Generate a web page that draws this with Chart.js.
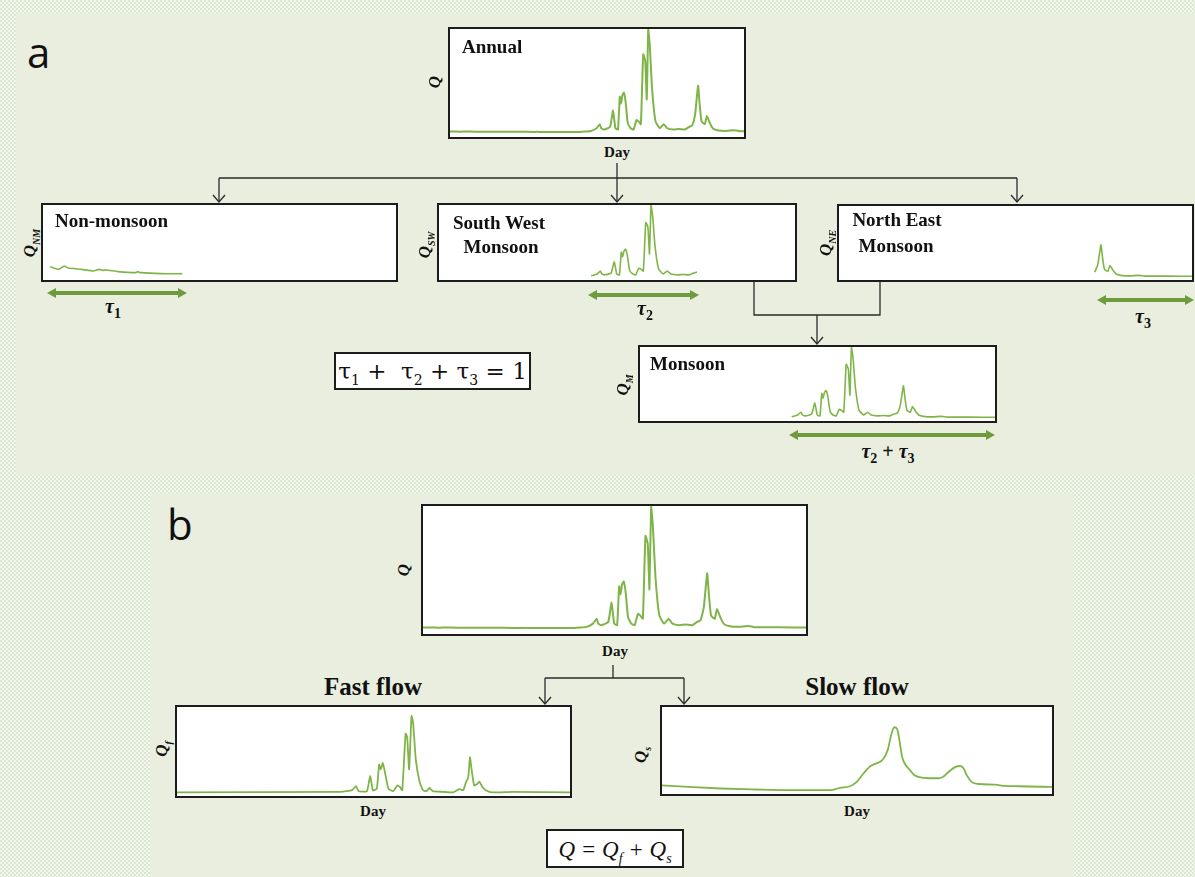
<!DOCTYPE html>
<html lang="en">
<head>
<meta charset="UTF-8">
<title>Streamflow decomposition</title>
<script src="https://cdn.jsdelivr.net/npm/chart.js"></script>
<style>
  body {
    margin: 0;
    width: 1195px;
    height: 877px;
    overflow: hidden;
    position: relative;
    background-color: #e7efdf;
    background-image: conic-gradient(#f5f8f0 25%, #dbe7cf 0 50%, #f5f8f0 0 75%, #dbe7cf 0);
    background-size: 4px 4px;
    font-family: "Liberation Serif", serif;
  }
  .panel { position: absolute; background: #eaeedf; }
  .box {
    position: absolute;
    box-sizing: border-box;
    border: 2px solid #1c1c1c;
    background: #fff;
  }
  .box canvas { position: absolute; left: 0; top: 0; }
  .t { position: absolute; line-height: 1; white-space: nowrap; color: #111; }
  .c { transform: translateX(-50%); }
  .bold { font-weight: bold; }
  .ql {
    position: absolute;
    font: italic bold 17px "Liberation Serif", serif;
    transform: translate(-50%, -50%) rotate(-90deg);
    white-space: nowrap;
    color: #111;
  }
  .ql sub { font-size: 10px; }
  .tau { font: italic bold 20px "Liberation Serif", serif; }
  .tau sub { font-style: normal; font-size: 14px; }
  .letter { font-family: "Open Sans", sans-serif; font-size: 42px; color: #111; }
</style>
</head>
<body>

<!-- paineis de fundo -->
<div class="panel" style="left:16px; top:13px; width:1179px; height:462px;"></div>
<div class="panel" style="left:150px; top:493px; width:923px; height:384px;"></div>

<!-- setas e ligacoes -->
<svg width="1195" height="877" style="position:absolute; left:0; top:0;">
  <g stroke="#2b2b2b" stroke-width="1.3" fill="none">
    <path d="M617 163 V202 M219 178 H1017 M219 178 V202 M1017 178 V202"/>
    <path d="M213 195 L219 202 L225 195 M611 195 L617 202 L623 195 M1011 195 L1017 202 L1023 195"/>
    <path d="M754 282 V315 H880 V282 M817 315 V344"/>
    <path d="M811 337 L817 344 L823 337"/>
    <path d="M613 665 V678 M545 678 H684 M545 678 V704 M684 678 V704"/>
    <path d="M539 697 L545 704 L551 697 M678 697 L684 704 L690 697"/>
  </g>
  <g stroke="#6f9b3f" stroke-width="4" fill="#6f9b3f">
    <line x1="54" y1="293" x2="180" y2="293"/>
    <polygon stroke="none" points="47,293 56,288 56,298"/>
    <polygon stroke="none" points="187,293 178,288 178,298"/>
    <line x1="595" y1="295" x2="692" y2="295"/>
    <polygon stroke="none" points="588,295 597,290 597,300"/>
    <polygon stroke="none" points="699,295 690,290 690,300"/>
    <line x1="1104" y1="300" x2="1187" y2="300"/>
    <polygon stroke="none" points="1097,300 1106,295 1106,305"/>
    <polygon stroke="none" points="1194,300 1185,295 1185,305"/>
    <line x1="796" y1="435" x2="988" y2="435"/>
    <polygon stroke="none" points="789,435 798,430 798,440"/>
    <polygon stroke="none" points="995,435 986,430 986,440"/>
  </g>
</svg>

<!-- letras dos paineis -->
<div class="t letter" style="left:27px; top:31px;">a</div>
<div class="t letter" style="left:167px; top:503px;">b</div>

<!-- caixas dos graficos -->
<div class="box" style="left:448px; top:27px; width:298px; height:112px;"><canvas id="gAnual" width="294" height="108"></canvas></div>
<div class="box" style="left:41px; top:203px; width:357px; height:79px;"><canvas id="gNM" width="353" height="75"></canvas></div>
<div class="box" style="left:437px; top:203px; width:360px; height:79px;"><canvas id="gSW" width="356" height="75"></canvas></div>
<div class="box" style="left:837px; top:204px; width:357px; height:78px;"><canvas id="gNE" width="353" height="74"></canvas></div>
<div class="box" style="left:638px; top:345px; width:359px; height:78px;"><canvas id="gMon" width="355" height="74"></canvas></div>
<div class="box" style="left:421px; top:504px; width:387px; height:132px;"><canvas id="gQ" width="383" height="128"></canvas></div>
<div class="box" style="left:175px; top:705px; width:397px; height:93px;"><canvas id="gFast" width="393" height="89"></canvas></div>
<div class="box" style="left:660px; top:705px; width:394px; height:91px;"><canvas id="gSlow" width="390" height="87"></canvas></div>

<!-- equacoes -->
<div class="box" style="left:334px; top:352px; width:197px; height:38px;">
  <div class="t" style="left:50%; top:6px; transform:translateX(-50%); font-size:23px; font-family:'DejaVu Serif', serif;">τ<sub style="font-size:14px">1</sub> +&nbsp; τ<sub style="font-size:14px">2</sub> + τ<sub style="font-size:14px">3</sub> = 1</div>
</div>
<div class="box" style="left:546px; top:829px; width:138px; height:39px;">
  <div class="t" style="left:50%; top:7px; transform:translateX(-50%); font-size:23px; font-style:italic;">Q = Q<sub style="font-size:14px">f</sub> + Q<sub style="font-size:14px">s</sub></div>
</div>

<!-- titulos -->
<div class="t bold" style="left:462px; top:37px; font-size:19px;">Annual</div>
<div class="t bold" style="left:55px; top:211px; font-size:19px;">Non-monsoon</div>
<div class="t bold c" style="left:499px; top:213px; font-size:19px;">South West</div>
<div class="t bold c" style="left:501px; top:237px; font-size:19px;">Monsoon</div>
<div class="t bold c" style="left:897px; top:210px; font-size:19px;">North East</div>
<div class="t bold c" style="left:896px; top:236px; font-size:19px;">Monsoon</div>
<div class="t bold" style="left:650px; top:354px; font-size:19px;">Monsoon</div>
<div class="t bold c" style="left:373px; top:674px; font-size:25px;">Fast flow</div>
<div class="t bold c" style="left:857px; top:674px; font-size:25px;">Slow flow</div>

<div class="t bold c" style="left:617px; top:145px; font-size:15px;">Day</div>
<div class="t bold c" style="left:615px; top:644px; font-size:15px;">Day</div>
<div class="t bold c" style="left:373px; top:804px; font-size:15px;">Day</div>
<div class="t bold c" style="left:857px; top:804px; font-size:15px;">Day</div>

<!-- rotulos do eixo y -->
<div class="ql" style="left:435px; top:82px;">Q</div>
<div class="ql" style="left:31px; top:243px;">Q<sub>NM</sub></div>
<div class="ql" style="left:426px; top:245px;">Q<sub>SW</sub></div>
<div class="ql" style="left:827px; top:243px;">Q<sub>NE</sub></div>
<div class="ql" style="left:624px; top:385px;">Q<sub>M</sub></div>
<div class="ql" style="left:404px; top:570px;">Q</div>
<div class="ql" style="left:163px; top:749px;">Q<sub>f</sub></div>
<div class="ql" style="left:642px; top:755px;">Q<sub>s</sub></div>

<!-- rotulos tau -->
<div class="t tau c" style="left:113px; top:295px;">τ<sub>1</sub></div>
<div class="t tau c" style="left:645px; top:297px;">τ<sub>2</sub></div>
<div class="t tau c" style="left:1143px; top:305px;">τ<sub>3</sub></div>
<div class="t tau c" style="left:888px; top:440px;">τ<sub>2</sub> <span style="font-style:normal">+</span> τ<sub>3</sub></div>

<script>
// vazao anual (dia do ano, vazao relativa)
const diasAnual = [0, 7.5, 16, 22, 26, 40, 52, 58.6, 62, 65.4, 77.4, 96, 97.8, 101, 121.7, 144, 150, 156, 162, 165.5,
  167, 170, 176.5, 179.7, 182.2, 185, 186.9, 188.2, 189.7, 191.3, 193.2, 195.4, 198.5, 201.7, 204.8, 207, 209.5, 212, 214.2, 215.8,
  217.4, 219, 221.5, 225.2, 229.9, 234, 237.8, 244, 250.4, 256.6, 261.3, 264.5, 267.6, 270.8, 272.3, 274.5, 278, 280.2, 283.3, 286.5,
  291.2, 300.6, 310, 316.3, 340, 365];
const vazaoAnual = [5.1, 5.1, 4.94, 5.14, 5.02, 4.94, 4.84, 4.94, 4.88, 4.9, 4.8, 4.74, 4.8, 4.74, 4.68, 4.68, 5.0, 5.6, 8.1, 11.9,
  8.1, 6.9, 9.4, 24.6, 8.1, 6.9, 37.3, 31, 38.6, 41.1, 32.2, 13.2, 8.1, 6.9, 15.7, 14.5, 11.9, 76.6, 70.3, 34.8,
  99.5, 85.5, 44.9, 14.5, 8.1, 11.9, 8.1, 6.9, 7.4, 6.9, 9.4, 10.7, 20.8, 47.5, 32.2, 14.5, 11.9, 19.5, 13.2, 8.1,
  6.3, 5.6, 6.3, 5.3, 5.2, 5.1];

// escoamento rapido
const diasRapido = [0, 152, 162.6, 166.2, 168.7, 176.4, 179.4, 181.9, 185.6, 187.7, 189.2, 191.1, 193.2, 196.3, 200.9, 204.6, 207, 209.2,
  212.3, 213.8, 215.6, 217.8, 219.3, 221.8, 225.4, 228.5, 231.6, 234.6, 237.7, 246.9, 256.1, 262.2, 265.9, 268.4, 270.5, 272.1,
  273.6, 276, 279.1, 280.7, 283.7, 286.8, 292.9, 311.3, 365];
const vazaoRapido = [4.0, 4.7, 6.5, 11.2, 5.4, 5.4, 22.7, 6.5, 8.3, 35.3, 29.9, 37.1, 26.3, 8.3, 5.4, 11.9, 10.1, 6.5,
  70.1, 65.8, 29.9, 89.9, 82, 40.6, 15.5, 6.5, 5.4, 9, 5.4, 4.7, 4.0, 7.6, 6.5, 15.5, 20.9, 43.5,
  29.9, 11.9, 13.7, 16.2, 10.1, 6.5, 4.0, 4.7, 4.0];

// escoamento lento (de base)
const diasLento = [0, 24.7, 55.5, 86.4, 117.2, 157.4, 166.6, 175.9, 182, 188.2, 194.4, 200.5, 206.7, 211.3, 214.4, 217.5, 220, 222.2,
  224.6, 226.8, 231.4, 236, 240.7, 249.9, 259.2, 263.8, 268.4, 274.6, 279.2, 282.3, 285.4, 290, 296.2, 311.6, 320.9, 333.2, 365];
const vazaoLento = [10, 8.1, 6.3, 5.2, 4.4, 4.4, 7, 8.9, 13.7, 23, 31.5, 35.2, 39.6, 50.7, 67.4, 76.7, 74.8, 61.9,
  43.3, 35.9, 28.5, 21.9, 19.3, 18.1, 18.1, 20.4, 25.6, 31.1, 32.2, 29.3, 21.1, 13.7, 11.5, 10.7, 9.3, 8.9, 8.1];

// periodos (dias)
const periodoNM = [7, 145];
const periodoSW = [155, 265];
const periodoNE = [264, 365];
const periodoMonsoon = [154, 365];

const corLinha = '#7fb548';

function recorte(dias, vazao, inicio, fim) {
    let pontos = [];
    for (let i = 0; i < dias.length; i++) {
        if (dias[i] >= inicio && dias[i] <= fim) {
            pontos.push({ x: dias[i], y: vazao[i] });
        }
    }
    return pontos;
}

function plotar(id, pontos, xMin, xMax, yMin, yMax, largura, suave) {
    return new Chart(document.getElementById(id), {
        type: 'line',
        data: {
            datasets: [{
                data: pontos,
                borderColor: corLinha,
                borderWidth: largura,
                pointRadius: 0,
                fill: false,
                cubicInterpolationMode: suave ? 'monotone' : 'default',
                tension: suave ? 0.4 : 0.15
            }]
        },
        options: {
            responsive: false,
            animation: false,
            layout: { padding: 0 },
            plugins: { legend: { display: false }, tooltip: { enabled: false } },
            scales: {
                x: { type: 'linear', display: false, min: xMin, max: xMax },
                y: { display: false, min: yMin, max: yMax }
            }
        }
    });
}

plotar('gAnual', recorte(diasAnual, vazaoAnual, 0, 365), 5, 320, 0, 100, 2, false);
plotar('gNM', recorte(diasAnual, vazaoAnual, periodoNM[0], periodoNM[1]), 0, 365, 4.3, 8.8, 1.6, false);
plotar('gSW', recorte(diasAnual, vazaoAnual, periodoSW[0], periodoSW[1]), 0, 365, 0, 100, 1.6, false);
plotar('gNE', recorte(diasAnual, vazaoAnual, periodoNE[0], periodoNE[1]), 0, 365, 0, 100, 1.6, false);
plotar('gMon', recorte(diasAnual, vazaoAnual, periodoMonsoon[0], periodoMonsoon[1]), 0, 365, 0, 100, 1.6, false);
plotar('gQ', recorte(diasAnual, vazaoAnual, 0, 365), 0, 365, 0, 100, 2, false);
plotar('gFast', recorte(diasRapido, vazaoRapido, 0, 365), 0, 365, 0, 100, 1.8, false);
plotar('gSlow', recorte(diasLento, vazaoLento, 0, 365), 0, 365, 0, 100, 1.8, true);
</script>
</body>
</html>
